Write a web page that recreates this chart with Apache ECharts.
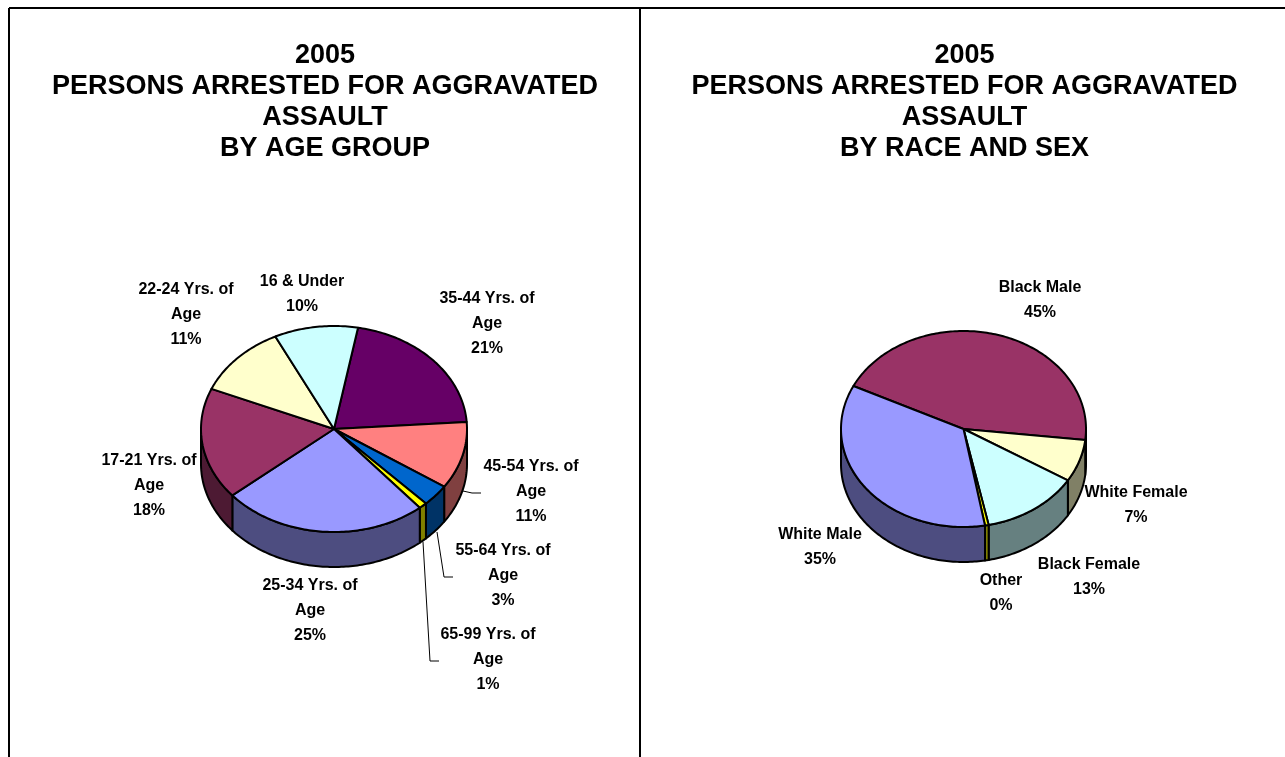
<!DOCTYPE html>
<html><head><meta charset="utf-8">
<style>html,body{margin:0;padding:0;background:#fff}#c{width:1285px;height:757px}</style>
<script src="https://cdn.jsdelivr.net/npm/echarts@6/dist/echarts.min.js"></script>
</head><body><div id="c"></div>
<script>
// ---- data ----
const titleYear = '2005';
const titleMain = 'PERSONS ARRESTED FOR AGGRAVATED';
const titleMain2 = 'ASSAULT';
const ageSubtitle = 'BY AGE GROUP';
const raceSubtitle = 'BY RACE AND SEX';

const ageCategories = ['35-44 Yrs. of Age','45-54 Yrs. of Age','55-64 Yrs. of Age','65-99 Yrs. of Age','25-34 Yrs. of Age','17-21 Yrs. of Age','22-24 Yrs. of Age','16 & Under'];
const ageValues = [21.1,10.6,3.4,1,25.1,17.6,11.4,10.2];
const raceCategories = ['Black Male','White Female','Black Female','Other','White Male'];
const raceValues = [44.8,7,13,0.49,35.2];

// ---- styles and layout ----
const ageColors = ['#660066','#FF8080','#0066CC','#FFFF00','#9999FF','#993366','#FFFFCC','#CCFFFF'];
const raceColors = ['#993366','#FFFFCC','#CCFFFF','#FFFF00','#9999FF'];
const ageLabelPos = [[487,324],[531,492],[503,576],[488,660],[310,611],[149,486],[186,315],[302,294.5]];
const raceLabelPos = [[1040,300],[1136,505.5],[1089,577],[1001,593],[820,547]];
const ageLeaders = [null,[[463,491],[472,493],[481,493]],[[437,532],[444,577],[453,577]],[[423,542],[430,661],[439,661]],null,null,null,null];
const raceLeaders = [null,null,null,null,null];
const agePie = {cx:334,cy:429,rx:133,ry:103,depth:35,start:10.4};
const racePie = {cx:963.5,cy:429,rx:122.5,ry:98,depth:35,start:296};

function darken(hex){
  const n=parseInt(hex.slice(1),16);
  const c=[n>>16,(n>>8)&255,n&255].map(v=>Math.round(v/2));
  return 'rgb('+c.join(',')+')';
}
function pieSeries(cats,vals,colors,labelPos,leaders,geo){
  const total=vals.reduce((a,b)=>a+b,0);
  const starts=[];let acc=geo.start;
  vals.forEach(v=>{starts.push(acc);acc+=v/total*360;});
  const pt=(deg,dy)=>{const t=deg*Math.PI/180;return [geo.cx+geo.rx*Math.sin(t),geo.cy-geo.ry*Math.cos(t)+(dy||0)];};
  return {
    type:'custom',coordinateSystem:'none',silent:true,animation:false,
    data:vals.map((v,i)=>({name:cats[i],value:[v,i]})),
    renderItem(params,api){
      const v=api.value(0), i=api.value(1);
      const a0=starts[i], a1=a0+v/total*360;
      const children=[];
      // visible outer wall: the parts of the slice on the front half of the rim
      for(const k of [0,360]){
        const s=Math.max(a0,90+k), e=Math.min(a1,270+k);
        if(e>s){
          const top=[],bot=[];
          for(let d=s;d<e;d+=1){top.push(pt(d));bot.push(pt(d,geo.depth));}
          top.push(pt(e));bot.push(pt(e,geo.depth));
          children.push({type:'polygon',shape:{points:top.concat(bot.reverse())},
            style:{fill:darken(colors[i]),stroke:'#000',lineWidth:2,lineJoin:'round'}});
        }
      }
      // top face
      const pts=[[geo.cx,geo.cy]];
      for(let d=a0;d<a1;d+=1)pts.push(pt(d));
      pts.push(pt(a1));
      children.push({type:'polygon',z2:5,shape:{points:pts},
        style:{fill:colors[i],stroke:'#000',lineWidth:2,lineJoin:'round'}});
      if(leaders[i])children.push({type:'polyline',shape:{points:leaders[i]},
        style:{fill:null,stroke:'#000',lineWidth:1}});
      children.push({type:'text',z2:10,style:{
        x:labelPos[i][0],y:labelPos[i][1],
        text:cats[i].replace(' Age','\nAge')+'\n'+Math.round(v)+'%',
        align:'center',verticalAlign:'middle',lineHeight:25,
        fontFamily:'"Liberation Sans",Arial,sans-serif',fontWeight:'bold',fontSize:16,fill:'#000'}});
      return {type:'group',children};
    }
  };
}
const titleStyle={fontFamily:'"Liberation Sans",Arial,sans-serif',fontWeight:'bold',fontSize:27,lineHeight:31,color:'#000'};
const frame=[
 [[9,8],[1285,8]],[[9,8],[9,757]],[[640,8],[640,757]]
].map(l=>({type:'line',silent:true,shape:{x1:l[0][0],y1:l[0][1],x2:l[1][0],y2:l[1][1]},style:{stroke:'#000',lineWidth:2}}));

const chart=echarts.init(document.getElementById('c'),null,{renderer:'canvas'});
chart.setOption({
  animation:false,backgroundColor:'#fff',
  title:[
    {text:[titleYear,titleMain,titleMain2,ageSubtitle].join('\n'),left:320,top:35,textAlign:'center',textStyle:titleStyle},
    {text:[titleYear,titleMain,titleMain2,raceSubtitle].join('\n'),left:959.5,top:35,textAlign:'center',textStyle:titleStyle}
  ],
  graphic:frame,
  series:[
    pieSeries(ageCategories,ageValues,ageColors,ageLabelPos,ageLeaders,agePie),
    pieSeries(raceCategories,raceValues,raceColors,raceLabelPos,raceLeaders,racePie)
  ]
});
</script></body></html>
